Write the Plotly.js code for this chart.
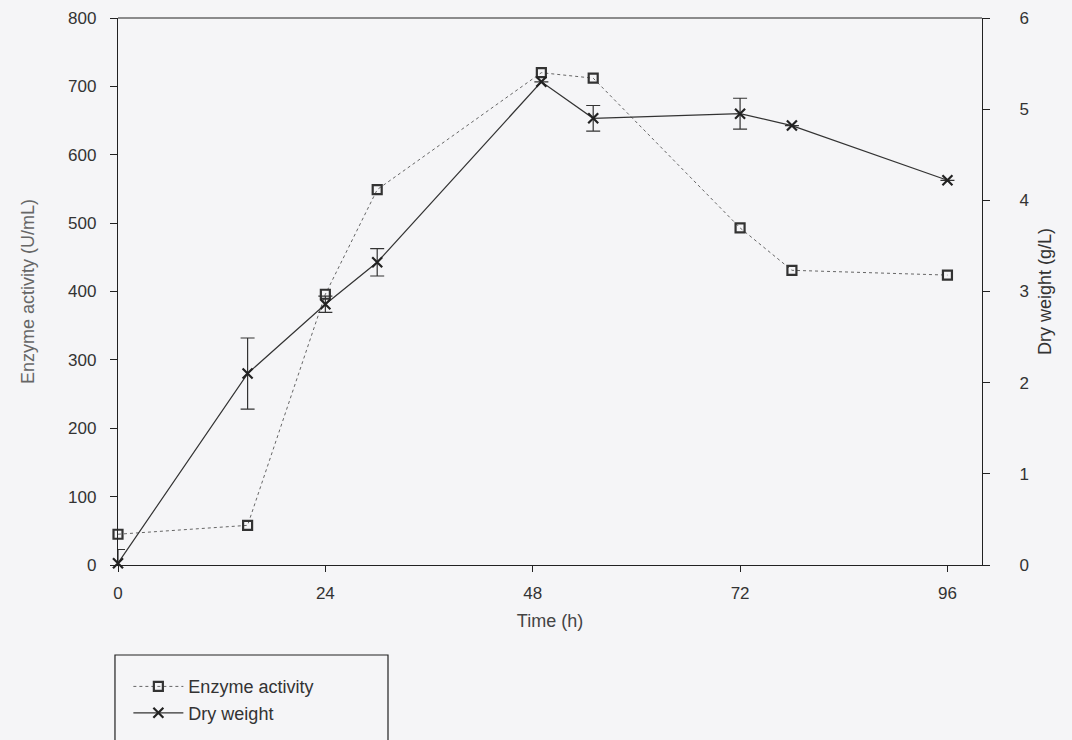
<!DOCTYPE html>
<html>
<head>
<meta charset="utf-8">
<script src="https://cdn.plot.ly/plotly-3.0.1.min.js"></script>
<style>html,body{margin:0;padding:0;background:#f5f5f7;}#chart{width:1072px;height:740px;}</style>
</head>
<body>
<div id="chart"></div>
<script>
const timeEnzyme = [0, 15, 24, 30, 49, 55, 72, 78, 96];
const enzymeActivity = [45, 58, 396, 549, 720, 712, 493, 431, 424];
const timeDry = [0, 15, 24, 30, 49, 55, 72, 78, 96];
const dryWeight = [0.02, 2.1, 2.86, 3.32, 5.3, 4.9, 4.95, 4.82, 4.22];
const dryWeightErr = [0.15, 0.39, 0.09, 0.15, 0, 0.14, 0.17, 0, 0];
const xTicks = [0, 24, 48, 72, 96];

const fontFam = 'Liberation Sans, Arial, sans-serif';

const traces = [
  {
    x: timeEnzyme, y: enzymeActivity, name: 'Enzyme activity', type: 'scatter', mode: 'lines+markers',
    line: {color: '#666', width: 1, dash: 'dot'},
    marker: {symbol: 'square-open', size: 9, color: '#333', line: {width: 2.2, color: '#333'}},
    cliponaxis: false, yaxis: 'y'
  },
  {
    x: timeDry, y: dryWeight, name: 'Dry weight', type: 'scatter', mode: 'lines+markers',
    line: {color: '#333', width: 1.2},
    marker: {symbol: 'x-thin-open', size: 10, color: '#222', line: {width: 2.2, color: '#222'}},
    error_y: {type: 'data', array: dryWeightErr, visible: true, color: '#333', thickness: 1.2, width: 7},
    cliponaxis: false, yaxis: 'y2'
  }
];

const layout = {
  width: 1072, height: 740,
  paper_bgcolor: '#f5f5f7', plot_bgcolor: '#f5f5f7',
  margin: {l: 118, r: 90, t: 18, b: 175},
  font: {family: fontFam, size: 16, color: '#333'},
  showlegend: true,
  legend: {
    xref: 'paper', yref: 'container',
    x: 0.012, y: 0.097, xanchor: 'left', yanchor: 'top',
    bgcolor: 'rgba(0,0,0,0)', borderwidth: 0,
    font: {family: fontFam, size: 18, color: '#333'},
    tracegroupgap: 0, itemwidth: 50
  },
  xaxis: {
    range: [0, 100], tickvals: xTicks, ticktext: xTicks.map(String),
    showline: true, linecolor: '#222', linewidth: 1.2, mirror: false,
    ticks: 'outside', ticklen: 6, tickcolor: '#222', showgrid: false, zeroline: false,
    ticklabelstandoff: 6,
    tickfont: {size: 17, color: '#333'},
    title: {text: 'Time (h)', font: {size: 18, color: '#444'}, standoff: 12}
  },
  yaxis: {
    range: [0, 800], dtick: 100,
    showline: true, linecolor: '#222', linewidth: 1.2,
    ticks: 'outside', ticklen: 7, tickcolor: '#222', showgrid: false, zeroline: false,
    ticklabelstandoff: 10,
    tickfont: {size: 17, color: '#333'},
    title: {text: 'Enzyme activity (U/mL)', font: {size: 18, color: '#666'}, standoff: 28}
  },
  yaxis2: {
    range: [0, 6], dtick: 1, overlaying: 'y', side: 'right',
    showline: true, linecolor: '#222', linewidth: 1.2,
    ticks: 'outside', ticklen: 7, tickcolor: '#222', showgrid: false, zeroline: false,
    ticklabelstandoff: 26,
    tickfont: {size: 17, color: '#333'},
    title: {text: 'Dry weight (g/L)', font: {size: 18, color: '#333'}, standoff: 10}
  },
  shapes: [
    {type: 'line', xref: 'paper', yref: 'paper', x0: 0, x1: 1, y0: 1, y1: 1, line: {color: '#222', width: 1.2}},
    {type: 'rect', xref: 'paper', yref: 'paper', x0: -0.0035, x1: 0.3125, y0: -0.1645, y1: -0.34,
     line: {color: '#222', width: 1.2}, fillcolor: 'rgba(0,0,0,0)'}
  ]
};

Plotly.newPlot('chart', traces, layout, {displayModeBar: false, staticPlot: true});
</script>
</body>
</html>
